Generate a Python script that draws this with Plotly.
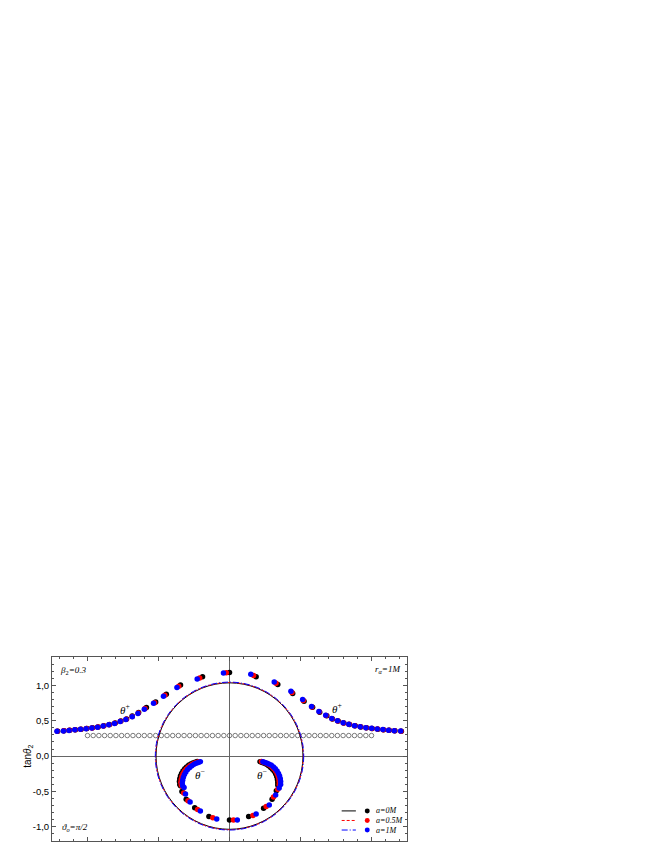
import plotly.graph_objects as go

# ---------------- data ----------------
# theta+ branches (outer curves), a = 0M, 0.5M, 1M
tp_x_a0 = [-2.42, -2.33, -2.25, -2.17, -2.09, -2.01, -1.93, -1.85, -1.77, -1.69, -1.61, -1.53, -1.45, -1.37, -1.28, -1.17, -1.04, -0.89, -0.69, -0.38, 0.0,
           0.375, 0.68, 0.89, 1.05, 1.17, 1.27, 1.37, 1.45, 1.53, 1.61, 1.69, 1.77, 1.85, 1.93, 2.01, 2.09, 2.17, 2.25, 2.33, 2.42]
tp_y_a0 = [0.352, 0.358, 0.365, 0.373, 0.380, 0.390, 0.400, 0.412, 0.428, 0.447, 0.467, 0.495, 0.525, 0.565, 0.615, 0.685, 0.765, 0.875, 1.005, 1.12, 1.18,
           1.12, 1.01, 0.885, 0.775, 0.69, 0.62, 0.57, 0.525, 0.495, 0.467, 0.447, 0.428, 0.412, 0.400, 0.390, 0.380, 0.373, 0.365, 0.358, 0.352]
tp_x_a05 = [-2.425, -2.335, -2.255, -2.175, -2.095, -2.015, -1.935, -1.855, -1.775, -1.695, -1.615, -1.535, -1.455, -1.37, -1.285, -1.19, -1.055, -0.91, -0.715, -0.42, -0.045,
            0.34, 0.655, 0.88, 1.04, 1.16, 1.265, 1.36, 1.445, 1.525, 1.605, 1.685, 1.765, 1.845, 1.925, 2.005, 2.085, 2.165, 2.245, 2.325, 2.415]
tp_y_a05 = [0.351, 0.357, 0.364, 0.372, 0.379, 0.388, 0.398, 0.410, 0.426, 0.444, 0.464, 0.491, 0.521, 0.560, 0.608, 0.673, 0.755, 0.860, 0.988, 1.105, 1.178,
            1.138, 1.028, 0.900, 0.787, 0.695, 0.625, 0.574, 0.528, 0.497, 0.468, 0.448, 0.429, 0.413, 0.401, 0.391, 0.381, 0.373, 0.365, 0.358, 0.352]
tp_x_a1 = [-2.43, -2.34, -2.26, -2.18, -2.10, -2.02, -1.94, -1.86, -1.78, -1.70, -1.62, -1.54, -1.46, -1.37, -1.29, -1.20, -1.07, -0.93, -0.74, -0.455, -0.085,
           0.30, 0.63, 0.865, 1.03, 1.155, 1.26, 1.355, 1.44, 1.52, 1.60, 1.68, 1.76, 1.84, 1.92, 2.00, 2.08, 2.16, 2.24, 2.32, 2.41]
tp_y_a1 = [0.350, 0.356, 0.363, 0.371, 0.378, 0.387, 0.397, 0.409, 0.424, 0.442, 0.462, 0.488, 0.517, 0.555, 0.602, 0.662, 0.745, 0.845, 0.970, 1.09, 1.175,
           1.155, 1.045, 0.915, 0.800, 0.700, 0.630, 0.578, 0.532, 0.500, 0.470, 0.450, 0.430, 0.414, 0.402, 0.392, 0.382, 0.374, 0.366, 0.359, 0.353]

# theta- branches (inner arcs), a = 0M, 0.5M, 1M
tm_x_a0 = [-0.455, -0.485, -0.515, -0.545, -0.575, -0.605, -0.63, -0.655, -0.675, -0.69, -0.70, -0.705, -0.70,
           -0.69, -0.67, -0.61, -0.49, -0.29, 0.0, 0.27, 0.48, 0.60, 0.66,
           0.68, 0.68, 0.675, 0.665, 0.65, 0.63, 0.605, 0.58, 0.55, 0.52, 0.49, 0.46, 0.43]
tm_y_a0 = [-0.078, -0.088, -0.098, -0.112, -0.13, -0.155, -0.18, -0.21, -0.245, -0.28, -0.32, -0.36, -0.40,
           -0.42, -0.50, -0.61, -0.73, -0.855, -0.905, -0.855, -0.737, -0.61, -0.49,
           -0.41, -0.37, -0.33, -0.29, -0.25, -0.215, -0.185, -0.16, -0.135, -0.115, -0.10, -0.09, -0.08]
tm_x_a05 = [-0.435, -0.465, -0.495, -0.525, -0.555, -0.585, -0.61, -0.635, -0.655, -0.67, -0.68, -0.685, -0.68,
            -0.665, -0.645, -0.585, -0.45, -0.235, 0.056, 0.33, 0.517, 0.62, 0.68,
            0.70, 0.70, 0.695, 0.685, 0.67, 0.65, 0.625, 0.60, 0.57, 0.54, 0.51, 0.48, 0.45]
tm_y_a05 = [-0.08, -0.09, -0.10, -0.115, -0.135, -0.16, -0.185, -0.215, -0.25, -0.29, -0.33, -0.37, -0.41,
            -0.43, -0.52, -0.63, -0.755, -0.87, -0.905, -0.84, -0.713, -0.58, -0.47,
            -0.40, -0.36, -0.32, -0.28, -0.245, -0.21, -0.18, -0.155, -0.13, -0.112, -0.098, -0.088, -0.078]
tm_x_a1 = [-0.41, -0.44, -0.47, -0.50, -0.53, -0.56, -0.59, -0.615, -0.635, -0.65, -0.66, -0.665, -0.66,
           -0.64, -0.62, -0.555, -0.41, -0.18, 0.11, 0.375, 0.56, 0.65, 0.70,
           0.72, 0.72, 0.715, 0.705, 0.69, 0.67, 0.645, 0.62, 0.59, 0.56, 0.53, 0.50, 0.47]
tm_y_a1 = [-0.08, -0.09, -0.10, -0.115, -0.135, -0.16, -0.19, -0.225, -0.26, -0.30, -0.34, -0.38, -0.42,
           -0.445, -0.535, -0.65, -0.775, -0.89, -0.905, -0.82, -0.69, -0.55, -0.45,
           -0.40, -0.36, -0.32, -0.28, -0.245, -0.21, -0.18, -0.155, -0.13, -0.115, -0.10, -0.09, -0.08]

# reference row of open circles
ref_x = [-2.0, -1.92, -1.84, -1.76, -1.68, -1.6, -1.52, -1.44, -1.36, -1.28, -1.2, -1.12, -1.04, -0.96, -0.88, -0.8, -0.72,
         -0.64, -0.56, -0.48, -0.4, -0.32, -0.24, -0.16, -0.08, 0.0, 0.08, 0.16, 0.24, 0.32, 0.4, 0.48, 0.56, 0.64, 0.72,
         0.8, 0.88, 0.96, 1.04, 1.12, 1.2, 1.28, 1.36, 1.44, 1.52, 1.6, 1.68, 1.76, 1.84, 1.92, 2.0]
ref_y = [0.29] * len(ref_x)

# circle radii for each a
series_names = ["a=0M", "a=0.5M", "a=1M"]
circle_radius = [1.035, 1.04, 1.045]

y_tickvals = [-1.0, -0.5, 0.0, 0.5, 1.0]
y_ticktext = ["-1,0", "-0,5", "0,0", "0,5", "1,0"]

# ---------------- style ----------------
colors = ["#000000", "#ff0000", "#0000ff"]
dashes = ["solid", "3px,2px", "6px,2px,1px,2px"]
serif = "Liberation Serif, Times New Roman, serif"
sans = "Liberation Sans, Arial, sans-serif"

fig = go.Figure()

fig.add_trace(go.Scatter(x=ref_x, y=ref_y, mode="markers", showlegend=False,
                         marker=dict(symbol="circle-open", size=4.5, color="#444",
                                     line=dict(width=0.7, color="#444"))))

tp = [(tp_x_a0, tp_y_a0), (tp_x_a05, tp_y_a05), (tp_x_a1, tp_y_a1)]
tm = [(tm_x_a0, tm_y_a0), (tm_x_a05, tm_y_a05), (tm_x_a1, tm_y_a1)]
for i in range(3):
    for xs, ys in (tp[i], tm[i]):
        fig.add_trace(go.Scatter(x=xs, y=ys, mode="markers", showlegend=False,
                                 marker=dict(size=5.5, color=colors[i], line=dict(width=0))))

shapes = []
for i, r in enumerate(circle_radius):
    shapes.append(dict(type="circle", xref="x", yref="y", x0=-r, x1=r, y0=-r, y1=r,
                       line=dict(color=colors[i], width=1, dash=dashes[i]), layer="above"))

# custom legend
leg_y = [-0.775, -0.91, -1.045]
annotations = []
for i in range(3):
    shapes.append(dict(type="line", xref="x", yref="y", x0=1.58, x1=1.78, y0=leg_y[i], y1=leg_y[i],
                       line=dict(color=colors[i], width=1, dash=dashes[i])))
    shapes.append(dict(type="circle", xref="x", yref="y", x0=1.905, x1=1.975,
                       y0=leg_y[i] - 0.035, y1=leg_y[i] + 0.035,
                       fillcolor=colors[i], line=dict(width=0)))
    annotations.append(dict(x=2.04, y=leg_y[i], xref="x", yref="y", xanchor="left", yanchor="middle",
                            text="<i>" + series_names[i] + "</i>", showarrow=False,
                            font=dict(family=serif, size=8, color="#000")))

def lab(x, y, t, size=9):
    annotations.append(dict(x=x, y=y, xref="x", yref="y", text=t, showarrow=False,
                            xanchor="center", yanchor="middle",
                            font=dict(family=serif, size=size, color="#000")))

lab(-2.2, 1.21, "<i>β</i><sub>2</sub><i>=0.3</i>")
lab(2.22, 1.22, "<i>r</i><sub><i>α</i></sub><i>=1M</i>")
lab(-2.17, -1.01, "<i>ϑ</i><sub><i>o</i></sub><i>=π/2</i>")
lab(-1.47, 0.66, "<i>θ</i><sup>+</sup>", 11)
lab(1.52, 0.68, "<i>θ</i><sup>+</sup>", 11)
lab(-0.41, -0.25, "<i>θ</i><sup>−</sup>", 11)
lab(0.46, -0.25, "<i>θ</i><sup>−</sup>", 11)

annotations.append(dict(x=-0.068, y=0.462, xref="paper", yref="paper", textangle=-90,
                        xanchor="center", yanchor="middle",
                        text="tan<i>θ</i><sub>2</sub>", showarrow=False,
                        font=dict(family=sans, size=10, color="#000")))

axis_common = dict(showgrid=False, showline=True, linecolor="#555", linewidth=1, mirror="allticks",
                   ticks="inside", tickcolor="#555", ticklen=4, tickwidth=1,
                   zeroline=True, zerolinecolor="#666", zerolinewidth=1)

fig.update_layout(
    width=664, height=860, autosize=False,
    margin=dict(l=44, r=265, t=649, b=27),
    paper_bgcolor="white", plot_bgcolor="white",
    shapes=shapes, annotations=annotations,
    xaxis=dict(range=[-2.5, 2.5], showticklabels=False, tick0=0, dtick=1,
               minor=dict(dtick=0.2, ticklen=2, ticks="inside", tickcolor="#555", showgrid=False),
               **axis_common),
    yaxis=dict(range=[-1.2, 1.4], tickvals=y_tickvals, ticktext=y_ticktext,
               tickfont=dict(family=sans, size=9.5, color="#000"),
               minor=dict(dtick=0.1, tick0=0, ticklen=2, ticks="inside", tickcolor="#555", showgrid=False),
               **axis_common),
    showlegend=False,
)

fig.write_html("out.html")
